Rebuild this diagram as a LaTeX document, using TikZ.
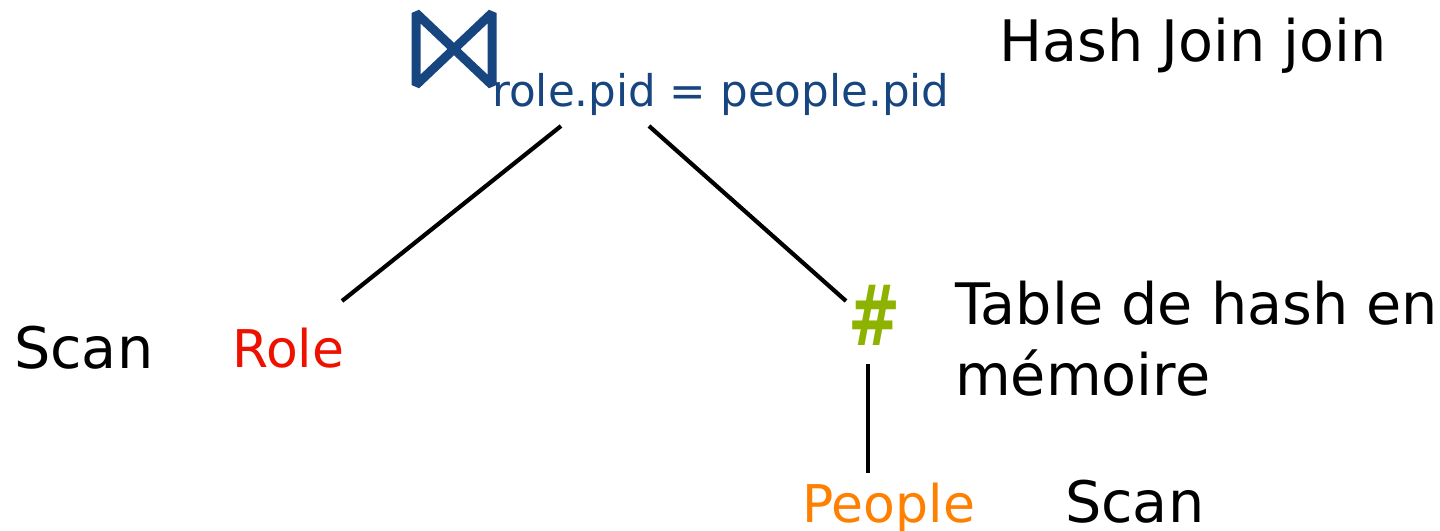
\documentclass[tikz,border=0pt]{standalone}
\usepackage{fontspec}
\usepackage{graphicx}
\setmainfont{DejaVu Sans}
\definecolor{joinblue}{HTML}{17457F}
\definecolor{rolered}{HTML}{EE1100}
\definecolor{peopleorange}{HTML}{FF8000}
\definecolor{hashgreen}{HTML}{8DB300}
\tikzset{x=1pt,y=-1pt,
 lbl/.style={inner sep=0pt,anchor=base west,font=\fontsize{57.2}{69}\selectfont},
 tbl/.style={inner sep=0pt,anchor=base west,font=\fontsize{52}{62}\selectfont},
 edge/.style={line width=4.2pt}}
\begin{document}
\begin{tikzpicture}
\useasboundingbox (0,0) rectangle (1440,530);
\draw[line width=9pt,joinblue,line join=bevel] (416,13) -- (492,85) -- (492,13) -- (416,85) -- cycle;
\node[inner sep=0pt,anchor=base west,font=\fontsize{43.6}{52}\selectfont,text=joinblue] (cond) at (492,106) {role.pid = people.pid};
\node[lbl] (hj) at (999,61) {Hash Join join};
\node[lbl] (scanl) at (14,368) {Scan};
\node[tbl,text=rolered] (role) at (232,367.5) {Role};
\node[inner sep=0pt,anchor=base west,font=\bfseries\fontsize{84}{100}\selectfont,text=hashgreen] (hash) at (848,345) {\scalebox{.74}[1]{\#}};
\node[lbl] (t1) at (955,324) {Table de hash en};
\node[lbl] (t2) at (955,395) {mémoire};
\node[tbl,text=peopleorange] (people) at (802,522) {People};
\node[lbl] (scanr) at (1065,522) {Scan};
\coordinate (c1) at (561,126);
\coordinate (c2) at (649,126);
\coordinate (r1) at (342,301);
\coordinate (h1) at (846,301);
\coordinate (h2) at (868,364);
\coordinate (p1) at (868,473);
\draw[edge] (c1) -- (r1);
\draw[edge] (c2) -- (h1);
\draw[edge] (h2) -- (p1);
\end{tikzpicture}
\end{document}
